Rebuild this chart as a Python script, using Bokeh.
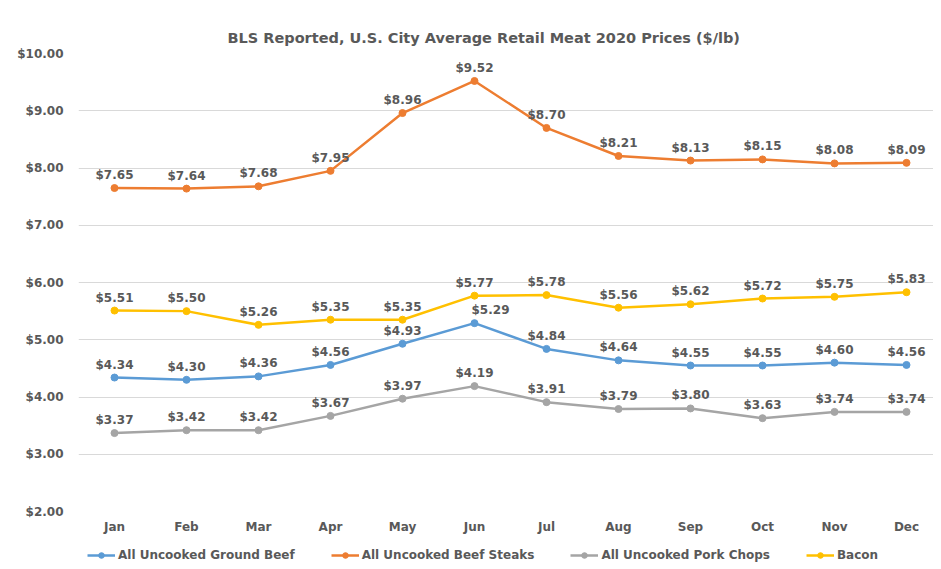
from bokeh.plotting import figure
from bokeh.layouts import column
from bokeh.models import (ColumnDataSource, FixedTicker, Legend, LegendItem,
                          Title, NumeralTickFormatter, Range1d)
from bokeh.core.properties import value
from bokeh.embed import file_html
from bokeh.resources import INLINE

months = ["Jan", "Feb", "Mar", "Apr", "May", "Jun", "Jul", "Aug", "Sep", "Oct", "Nov", "Dec"]
ground_beef = [4.34, 4.30, 4.36, 4.56, 4.93, 5.29, 4.84, 4.64, 4.55, 4.55, 4.60, 4.56]
beef_steaks = [7.65, 7.64, 7.68, 7.95, 8.96, 9.52, 8.70, 8.21, 8.13, 8.15, 8.08, 8.09]
pork_chops = [3.37, 3.42, 3.42, 3.67, 3.97, 4.19, 3.91, 3.79, 3.80, 3.63, 3.74, 3.74]
bacon = [5.51, 5.50, 5.26, 5.35, 5.35, 5.77, 5.78, 5.56, 5.62, 5.72, 5.75, 5.83]
y_ticks = [2, 3, 4, 5, 6, 7, 8, 9, 10]

series = [
    ("All Uncooked Ground Beef", ground_beef, "#5B9BD5"),
    ("All Uncooked Beef Steaks", beef_steaks, "#ED7D31"),
    ("All Uncooked Pork Chops", pork_chops, "#A5A5A5"),
    ("Bacon", bacon, "#FFC000"),
]

GREY = "#595959"
FONT = "DejaVu Sans"

p = figure(width=933, height=541, output_backend="svg", toolbar_location=None,
           x_range=Range1d(-0.5, 11.375), y_range=Range1d(2, 10),
           min_border_left=78, min_border_right=0, min_border_top=53, min_border_bottom=30)
p.outline_line_color = None
p.background_fill_color = "white"
p.border_fill_color = "white"

p.add_layout(Title(text="BLS Reported, U.S. City Average Retail Meat 2020 Prices ($/lb)",
                   align="left", offset=149, standoff=15, text_font=FONT,
                   text_font_size="14.5px", text_font_style="bold", text_color=GREY), "above")

p.xgrid.grid_line_color = None
p.ygrid.grid_line_color = "#D9D9D9"
p.ygrid.grid_line_width = 1

p.yaxis.ticker = FixedTicker(ticks=y_ticks)
p.yaxis.formatter = NumeralTickFormatter(format="$0.00")
p.yaxis.axis_line_color = None
p.yaxis.major_tick_line_color = None
p.yaxis.minor_tick_line_color = None
p.yaxis.major_tick_out = 0
p.yaxis.major_tick_in = 0
p.yaxis.minor_tick_out = 0
p.yaxis.major_label_text_font = FONT
p.yaxis.major_label_text_font_style = "bold"
p.yaxis.major_label_text_font_size = "12px"
p.yaxis.major_label_text_color = GREY
p.yaxis.major_label_standoff = 15

p.xaxis.ticker = FixedTicker(ticks=list(range(len(months))))
p.xaxis.major_label_overrides = {i: m for i, m in enumerate(months)}
p.xaxis.axis_line_color = None
p.xaxis.major_tick_line_color = None
p.xaxis.minor_tick_line_color = None
p.xaxis.major_tick_out = 0
p.xaxis.major_tick_in = 0
p.xaxis.minor_tick_out = 0
p.xaxis.major_label_text_font = FONT
p.xaxis.major_label_text_font_style = "bold"
p.xaxis.major_label_text_font_size = "12px"
p.xaxis.major_label_text_color = GREY
p.xaxis.major_label_standoff = 8

# legend lives in a small strip below the chart (its frame is aligned with the chart's)
pl = figure(width=933, height=26, output_backend="svg", toolbar_location=None,
            x_range=Range1d(-100, -99), y_range=Range1d(-100, -99),
            min_border_left=0, min_border_right=0, min_border_top=0, min_border_bottom=0)
pl.axis.visible = False
pl.grid.visible = False
pl.outline_line_color = None
pl.border_fill_color = "white"
pl.background_fill_color = "white"

items = []
x = list(range(len(months)))
for name, vals, color in series:
    src = ColumnDataSource(dict(x=x, y=vals))
    p.line("x", "y", source=src, line_color=color, line_width=2.5)
    p.scatter("x", "y", source=src, size=7, fill_color=color, line_color=color)
    # legend proxies share the series data but fall outside the strip's ranges
    lr = pl.line("x", "y", source=src, line_color=color, line_width=2.5)
    sr = pl.scatter("x", "y", source=src, size=7, fill_color=color, line_color=color)
    items.append(LegendItem(label=name, renderers=[lr, sr]))
    # data labels; one label (Jun, ground beef) is nudged right as in the original
    nudged = [5] if name == "All Uncooked Ground Beef" else []
    for idxs, xo in (([i for i in x if i not in nudged], 0), (nudged, 16)):
        if not idxs:
            continue
        lsrc = ColumnDataSource(dict(x=[x[i] for i in idxs], y=[vals[i] for i in idxs],
                                     lab=[f"${vals[i]:.2f}" for i in idxs]))
        p.text("x", "y", text="lab", source=lsrc, x_offset=xo, y_offset=-6,
               text_align="center", text_baseline="bottom",
               text_font=value(FONT), text_font_style="bold",
               text_font_size="12px", text_color=GREY)

legend = Legend(items=items, orientation="horizontal", location=(9, 5),
                label_text_font=FONT, label_text_font_style="bold",
                label_text_font_size="12px", label_text_color=GREY,
                glyph_width=28, glyph_height=14, label_height=14,
                label_standoff=3, spacing=36, padding=0, margin=0,
                border_line_color=None, background_fill_alpha=0)
pl.add_layout(legend, "center")

layout = column(p, pl, spacing=0)
open("out.html", "w").write(file_html(layout, INLINE))
